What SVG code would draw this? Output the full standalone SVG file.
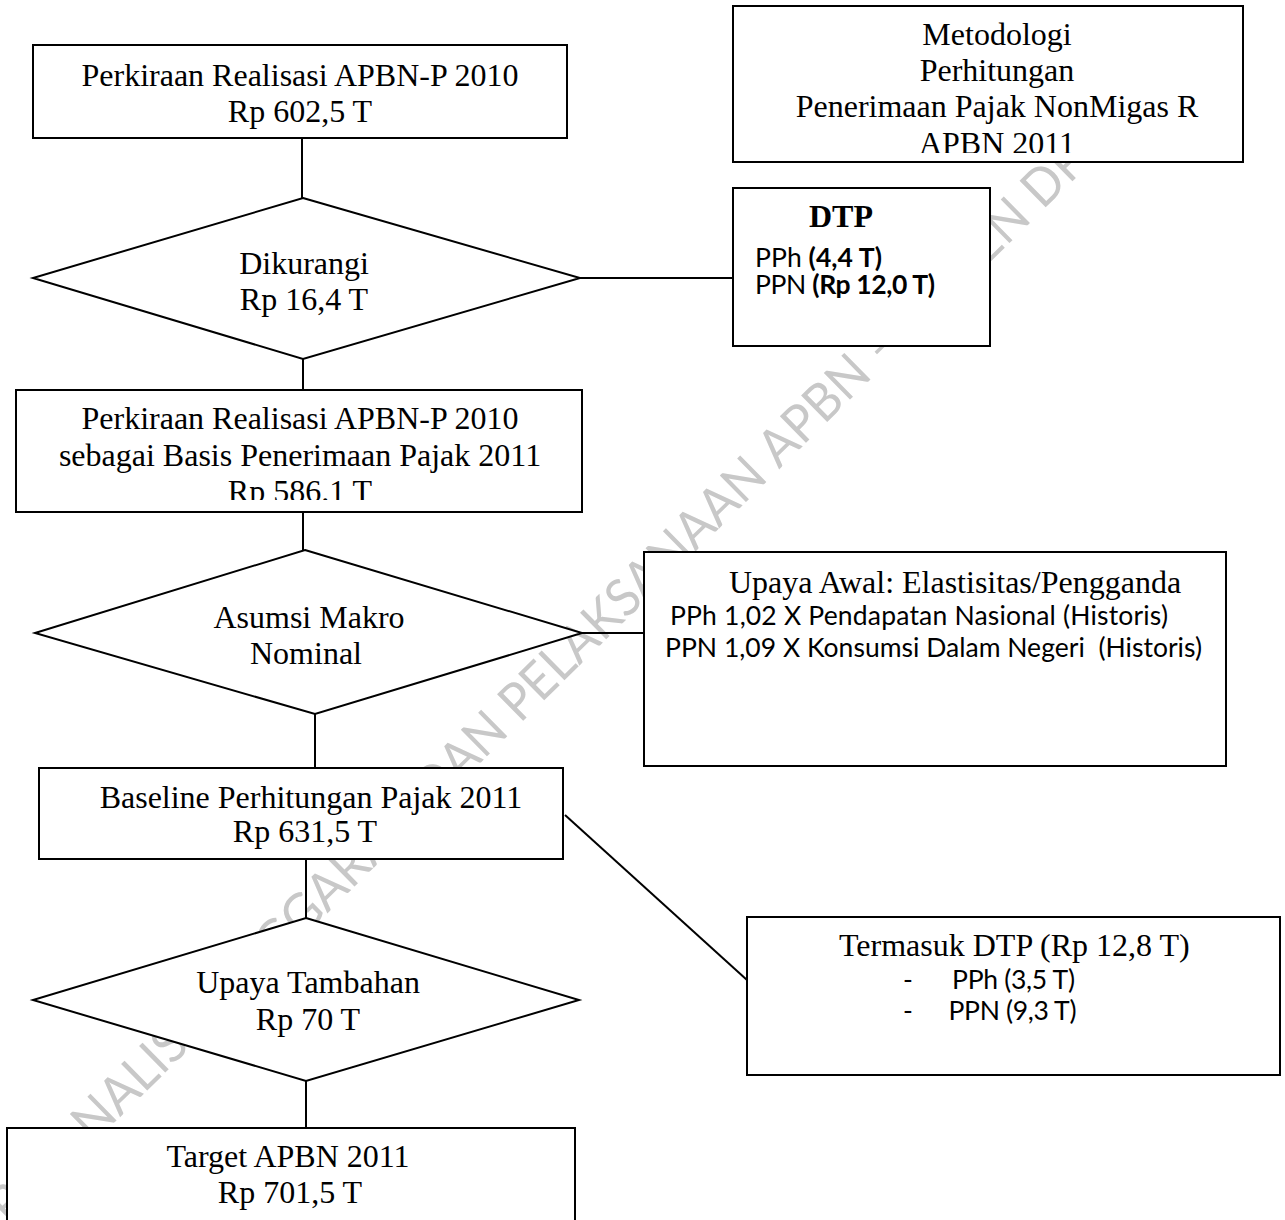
<svg xmlns="http://www.w3.org/2000/svg" width="1285" height="1220" viewBox="0 0 1285 1220">
<style>
.bg{fill:#ffffff}
.shape{fill:#ffffff;stroke:#000000;stroke-width:2}
.conn{fill:none;stroke:#000000;stroke-width:2}
.serif{font-family:"Liberation Serif","Times New Roman",serif;font-size:32px;fill:#000000}
.sans{font-family:Lato,"Open Sans",sans-serif;font-size:26.5px;fill:#000000}
.b{font-weight:bold}
.mid{text-anchor:middle}
.wm{font-family:Lato,"Open Sans",sans-serif;font-size:52px;fill:#c8c8c8}
</style>
<defs>
<clipPath id="clipC"><rect x="16" y="390" width="566" height="110"/></clipPath>
<clipPath id="clipM"><rect x="733" y="6" width="510" height="147"/></clipPath>
</defs>
<rect class="bg" x="0" y="0" width="1285" height="1220"/>

<g id="watermark" transform="translate(93,1117) rotate(-44.5)">
<text class="wm" x="-182.1" y="19" textLength="116.5" lengthAdjust="spacingAndGlyphs">BIRO</text>
<text class="wm" x="-52.5" y="19" textLength="204.5" lengthAdjust="spacingAndGlyphs">ANALISA</text>
<text class="wm" x="165.2" y="19" textLength="281.3" lengthAdjust="spacingAndGlyphs">ANGGARAN</text>
<text class="wm" x="459.7" y="19" textLength="107.1" lengthAdjust="spacingAndGlyphs">DAN</text>
<text class="wm" x="579.9" y="19" textLength="349.9" lengthAdjust="spacingAndGlyphs">PELAKSANAAN</text>
<text class="wm" x="943" y="19" textLength="133" lengthAdjust="spacingAndGlyphs">APBN</text>
<text class="wm" x="1089.2" y="19">–</text>
<text class="wm" x="1131.4" y="19" textLength="168" lengthAdjust="spacingAndGlyphs">SETJEN</text>
<text class="wm" x="1312.6" y="19" textLength="97.5" lengthAdjust="spacingAndGlyphs">DPR</text>
<text class="wm" x="1423.2" y="19" textLength="46.3" lengthAdjust="spacingAndGlyphs">RI</text>
</g>

<g id="connectors">
<line class="conn" x1="302" y1="138" x2="302" y2="198"/>
<line class="conn" x1="580" y1="278" x2="733" y2="278"/>
<line class="conn" x1="303" y1="359" x2="303" y2="390"/>
<line class="conn" x1="303" y1="512" x2="303" y2="550"/>
<line class="conn" x1="582" y1="633" x2="644" y2="633"/>
<line class="conn" x1="315" y1="714" x2="315" y2="768"/>
<line class="conn" x1="306" y1="859" x2="306" y2="918"/>
<line class="conn" x1="306" y1="1081" x2="306" y2="1128"/>
<line class="conn" x1="565" y1="815" x2="747" y2="980"/>
</g>

<g id="node-metodologi">
<rect class="shape" x="733" y="6" width="510" height="156"/>
<g clip-path="url(#clipM)">
<text class="serif mid" x="997" y="45">Metodologi</text>
<text class="serif mid" x="997" y="81">Perhitungan</text>
<text class="serif mid" x="997" y="117">Penerimaan Pajak NonMigas R</text>
<text class="serif mid" x="997" y="154">APBN 2011</text>
</g>
</g>

<g id="node-realisasi">
<rect class="shape" x="33" y="45" width="534" height="93"/>
<text class="serif mid" x="300" y="86">Perkiraan Realisasi APBN-P 2010</text>
<text class="serif mid" x="300" y="122">Rp 602,5 T</text>
</g>

<g id="node-dikurangi">
<polygon class="shape" points="303,198 580,278 303,359 33,278"/>
<text class="serif mid" x="304" y="274">Dikurangi</text>
<text class="serif mid" x="304" y="310">Rp 16,4 T</text>
</g>

<g id="node-dtp">
<rect class="shape" x="733" y="188" width="257" height="158"/>
<text class="serif b mid" x="841" y="227">DTP</text>
<text class="sans" x="755" y="267" textLength="127">PPh <tspan class="b">(4,4 T)</tspan></text>
<text class="sans" x="755" y="294" textLength="180">PPN <tspan class="b">(Rp 12,0 T)</tspan></text>
</g>

<g id="node-basis">
<rect class="shape" x="16" y="390" width="566" height="122"/>
<g clip-path="url(#clipC)">
<text class="serif mid" x="300" y="429">Perkiraan Realisasi APBN-P 2010</text>
<text class="serif mid" x="300" y="466">sebagai Basis Penerimaan Pajak 2011</text>
<text class="serif mid" x="300" y="502">Rp 586.1 T</text>
</g>
</g>

<g id="node-asumsi">
<polygon class="shape" points="305,550 582,633 315,714 35,633"/>
<text class="serif mid" x="309" y="628">Asumsi Makro</text>
<text class="serif mid" x="306" y="664">Nominal</text>
</g>

<g id="node-upaya-awal">
<rect class="shape" x="644" y="552" width="582" height="214"/>
<text class="serif" x="729" y="593">Upaya Awal: Elastisitas/Pengganda</text>
<text class="sans" x="670" y="625" textLength="498">PPh 1,02 X Pendapatan Nasional (Historis)</text>
<text class="sans" x="665" y="657" textLength="537" xml:space="preserve">PPN 1,09 X Konsumsi Dalam Negeri  (Historis)</text>
</g>

<g id="node-baseline">
<rect class="shape" x="39" y="768" width="524" height="91"/>
<text class="serif mid" x="311" y="808">Baseline Perhitungan Pajak 2011</text>
<text class="serif mid" x="305" y="842">Rp 631,5 T</text>
</g>

<g id="node-termasuk">
<rect class="shape" x="747" y="917" width="533" height="158"/>
<text class="serif" x="839" y="956">Termasuk DTP (Rp 12,8 T)</text>
<text class="sans" x="903" y="989">-</text>
<text class="sans" x="952" y="989" textLength="123">PPh (3,5 T)</text>
<text class="sans" x="903" y="1020">-</text>
<text class="sans" x="948.5" y="1020" textLength="128">PPN (9,3 T)</text>
</g>

<g id="node-upaya-tambahan">
<polygon class="shape" points="306,918 579,1000 306,1081 33,1000"/>
<text class="serif mid" x="308" y="993">Upaya Tambahan</text>
<text class="serif mid" x="308" y="1030">Rp 70 T</text>
</g>

<g id="node-target">
<rect class="shape" x="7" y="1128" width="568" height="110"/>
<text class="serif mid" x="288" y="1167">Target APBN 2011</text>
<text class="serif mid" x="290" y="1203">Rp 701,5 T</text>
</g>
</svg>
